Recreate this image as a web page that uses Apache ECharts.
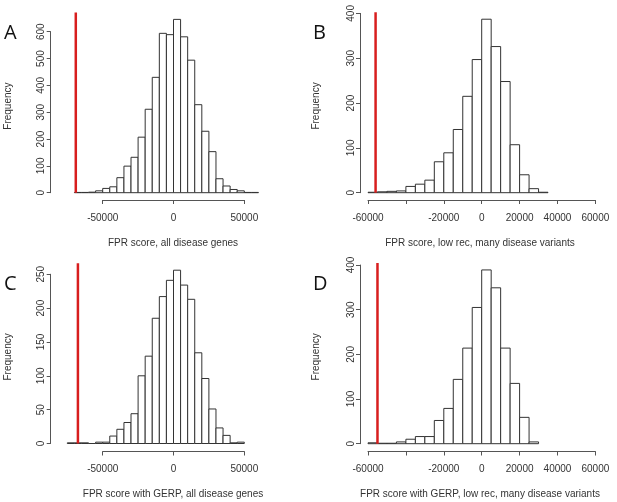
<!DOCTYPE html>
<html>
<head>
<meta charset="utf-8">
<script src="https://cdn.jsdelivr.net/npm/echarts@6/dist/echarts.min.js"></script>
<style>
  html, body { margin: 0; padding: 0; background: #fff; }
  #chart { width: 617px; height: 502px; }
</style>
</head>
<body>
<div id="chart"></div>
<script>
// Histogram data, bins of 5000
const binWidth = 5000;

const binStartA = -70000;
const countsA = [1, 1, 2, 7, 16, 22, 56, 99, 132, 207, 311, 430, 594, 589,
                 646, 581, 494, 328, 229, 153, 52, 25, 12, 7, 1, 1];
const redA = -69000;
const xTicksA = [-50000, 0, 50000];
const xLabelsA = ['-50000', '0', '50000'];
const yTicksA = [0, 100, 200, 300, 400, 500, 600];
const titleA = 'FPR score, all disease genes';

const binStartB = -60000;
const countsB = [1, 2, 3, 4, 14, 19, 28, 69, 89, 141, 215, 297,
                 387, 326, 248, 107, 40, 9, 1];
const redB = -56000;
const xTicksB = [-60000, -40000, -20000, 0, 20000, 40000, 60000];
const xLabelsB = ['-60000', '', '-20000', '0', '20000', '40000', '60000'];
const yTicksB = [0, 100, 200, 300, 400];
const titleB = 'FPR score, low rec, many disease variants';

const binStartC = -75000;
const countsC = [1, 1, 1, 0, 2, 2, 11, 21, 31, 44, 100, 129, 185, 217, 241,
                 256, 234, 213, 134, 96, 51, 23, 12, 1, 2];
const redC = -67500;
const xTicksC = [-50000, 0, 50000];
const xLabelsC = ['-50000', '0', '50000'];
const yTicksC = [0, 50, 100, 150, 200, 250];
const titleC = 'FPR score with GERP, all disease genes';

const binStartD = -60000;
const countsD = [2, 1, 1, 4, 10, 16, 16, 52, 79, 144, 214, 305,
                 389, 349, 214, 135, 59, 4];
const redD = -55000;
const xTicksD = [-60000, -40000, -20000, 0, 20000, 40000, 60000];
const xLabelsD = ['-60000', '', '-20000', '0', '20000', '40000', '60000'];
const yTicksD = [0, 100, 200, 300, 400];
const titleD = 'FPR score with GERP, low rec, many disease variants';

// panel placement (pixel of x=0, px per unit, pixel of y=0, px per count)
const panels = [
  { letter: 'A', start: binStartA, counts: countsA, red: redA, xTicks: xTicksA, xLabels: xLabelsA, yTicks: yTicksA, title: titleA,
    x0: 173.5, kx: 0.001416, y0: 192.7, ky: 0.2683, axisY: 200, axisX: 50.7, freqX: 8.5, titleX: 173, letterX: 4, letterY: 33 },
  { letter: 'B', start: binStartB, counts: countsB, red: redB, xTicks: xTicksB, xLabels: xLabelsB, yTicks: yTicksB, title: titleB,
    x0: 481.7, kx: 0.001895, y0: 192.7, ky: 0.4483, axisY: 200, axisX: 360, freqX: 316, titleX: 480, letterX: 313, letterY: 33 },
  { letter: 'C', start: binStartC, counts: countsC, red: redC, xTicks: xTicksC, xLabels: xLabelsC, yTicks: yTicksC, title: titleC,
    x0: 173.5, kx: 0.001416, y0: 443.5, ky: 0.677, axisY: 451.5, axisX: 50.7, freqX: 8.5, titleX: 173, letterX: 4, letterY: 284 },
  { letter: 'D', start: binStartD, counts: countsD, red: redD, xTicks: xTicksD, xLabels: xLabelsD, yTicks: yTicksD, title: titleD,
    x0: 481.7, kx: 0.001895, y0: 443.7, ky: 0.4467, axisY: 451.5, axisX: 360, freqX: 316, titleX: 480, letterX: 313, letterY: 284 }
];

const textColor = '#333';
const axisColor = '#555';
const font = "'Liberation Sans', Arial, sans-serif";

const grid = [], xAxis = [], yAxis = [], series = [], graphic = [];

panels.forEach(function (p) {
  const lo = p.start;
  const hi = p.start + binWidth * p.counts.length;
  const yTop = Math.max.apply(null, p.counts) * 1.04;

  // plot area
  const g = grid.length;
  grid.push({
    left: p.x0 + p.kx * lo, width: p.kx * (hi - lo),
    top: p.y0 - p.ky * yTop, height: p.ky * yTop
  });
  xAxis.push({ gridIndex: g, type: 'value', min: lo, max: hi, show: false });
  yAxis.push({ gridIndex: g, type: 'value', min: 0, max: yTop, show: false });

  const bins = p.counts.map(function (c, i) {
    return [lo + i * binWidth, lo + (i + 1) * binWidth, c];
  });
  series.push({
    type: 'custom', xAxisIndex: g, yAxisIndex: g, silent: true,
    encode: { x: [0, 1], y: 2 },
    data: bins,
    renderItem: function (params, api) {
      const a = api.coord([api.value(0), api.value(2)]);
      const b = api.coord([api.value(1), 0]);
      return {
        type: 'rect',
        shape: { x: a[0], y: a[1], width: b[0] - a[0], height: b[1] - a[1] },
        style: { fill: '#fff', stroke: '#333', lineWidth: 1 }
      };
    }
  });
  series.push({
    type: 'line', xAxisIndex: g, yAxisIndex: g, silent: true,
    symbol: 'none', animation: false,
    data: [[p.red, 0], [p.red, yTop]],
    lineStyle: { color: '#d81e1e', width: 2.5 }
  });

  // x axis (spans tick range only)
  const tMin = p.xTicks[0], tMax = p.xTicks[p.xTicks.length - 1];
  const gx = grid.length;
  grid.push({
    left: p.x0 + p.kx * tMin, width: p.kx * (tMax - tMin),
    top: p.axisY - 1, height: 1
  });
  xAxis.push({
    gridIndex: gx, type: 'value', min: tMin, max: tMax,
    interval: p.xTicks[1] - p.xTicks[0], position: 'bottom',
    axisLine: { show: true, lineStyle: { color: axisColor, width: 1 } },
    axisTick: { show: true, length: 4, lineStyle: { color: axisColor } },
    splitLine: { show: false },
    axisLabel: {
      margin: 13, color: textColor, fontSize: 10, fontFamily: font,
      showMinLabel: true, showMaxLabel: true,
      formatter: function (v) {
        const i = p.xTicks.indexOf(v);
        return i >= 0 ? p.xLabels[i] : '';
      }
    }
  });
  yAxis.push({ gridIndex: gx, type: 'value', show: false });

  // y axis (spans tick range only)
  const yMax = p.yTicks[p.yTicks.length - 1];
  const gy = grid.length;
  grid.push({
    left: p.axisX, width: 1,
    top: p.y0 - p.ky * yMax, height: p.ky * yMax
  });
  xAxis.push({ gridIndex: gy, type: 'value', show: false });
  yAxis.push({
    gridIndex: gy, type: 'value', min: 0, max: yMax,
    interval: p.yTicks[1] - p.yTicks[0], position: 'left',
    axisLine: { show: true, lineStyle: { color: axisColor, width: 1 } },
    axisTick: { show: true, length: 4, lineStyle: { color: axisColor } },
    splitLine: { show: false },
    axisLabel: {
      rotate: 90, margin: 4, color: textColor, fontSize: 10, fontFamily: font,
      showMinLabel: true, showMaxLabel: true
    }
  });

  // texts
  graphic.push({
    type: 'text', x: p.freqX, y: p.y0 - p.ky * yTop / 2 + 3.5, rotation: Math.PI / 2,
    style: { text: 'Frequency', fill: textColor, font: '10px ' + font, align: 'center', verticalAlign: 'middle' }
  });
  graphic.push({
    type: 'text', x: p.titleX, y: p.axisY + 43,
    style: { text: p.title, fill: textColor, font: '10px ' + font, align: 'center', verticalAlign: 'middle' }
  });
  graphic.push({
    type: 'text', x: p.letterX, y: p.letterY,
    style: { text: p.letter, fill: '#111', font: '20px "Open Sans", sans-serif', align: 'left', verticalAlign: 'middle' }
  });
});

const chart = echarts.init(document.getElementById('chart'), null, { renderer: 'canvas' });
chart.setOption({
  animation: false,
  backgroundColor: '#fff',
  grid: grid,
  xAxis: xAxis,
  yAxis: yAxis,
  series: series,
  graphic: graphic
});
</script>
</body>
</html>
